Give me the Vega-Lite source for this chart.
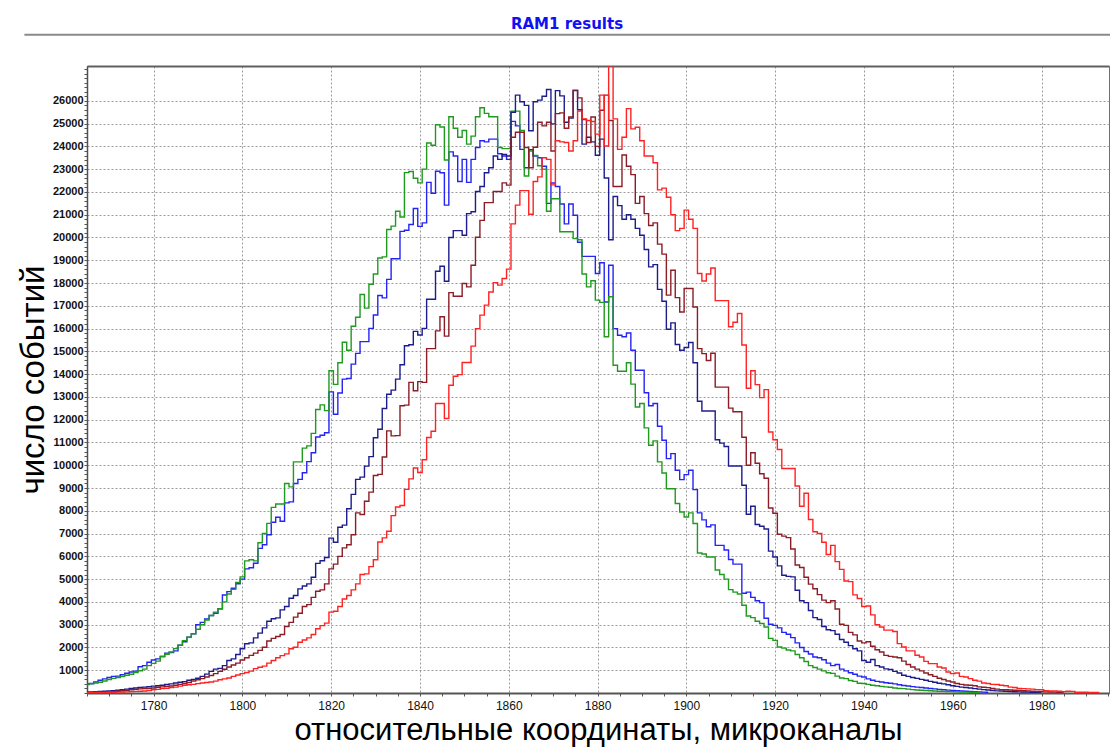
{
"$schema":"https://vega.github.io/schema/vega-lite/v6.json",
"width":1022,"height":627,
"autosize":{"type":"none"},
"padding":{"left":87,"top":66,"right":1,"bottom":54},
"background":"white",
"config":{"view":{"stroke":"#707070","strokeWidth":1}},
"title":{"text":"RAM1 results","color":"#1010f4","font":"DejaVu Sans","fontSize":15,"fontWeight":"bold","anchor":"middle","frame":"group","offset":2,"dx":-31},
"resolve":{"axis":{"x":"independent","y":"independent"}},
"layer":[
{"data":{"values":[{"k":1}]},
"mark":{"type":"rule","color":"#8a8a8a","strokeWidth":2,"clip":false},
"encoding":{
"x":{"datum":1750.9,"type":"quantitative","axis":{"orient":"top","labels":false,"ticks":false,"grid":false,"title":null,"domainColor":"#606060","domainWidth":2}},
"x2":{"datum":1996},
"y":{"datum":28906,"type":"quantitative","axis":null}}},
{"data":{"values":[
{"s":"b","u":1765,"v":400},{"s":"b","u":1766,"v":420},{"s":"b","u":1767,"v":480},{"s":"b","u":1768,"v":560},{"s":"b","u":1769,"v":620},{"s":"b","u":1770,"v":680},{"s":"b","u":1771,"v":730},{"s":"b","u":1772,"v":740},{"s":"b","u":1773,"v":800},{"s":"b","u":1774,"v":870},{"s":"b","u":1775,"v":920},{"s":"b","u":1776,"v":960},{"s":"b","u":1777,"v":1150},{"s":"b","u":1778,"v":1200},{"s":"b","u":1779,"v":1350},{"s":"b","u":1780,"v":1450},{"s":"b","u":1781,"v":1500},{"s":"b","u":1782,"v":1600},{"s":"b","u":1783,"v":1750},{"s":"b","u":1784,"v":1780},{"s":"b","u":1785,"v":1850},{"s":"b","u":1786,"v":2100},{"s":"b","u":1787,"v":2250},{"s":"b","u":1788,"v":2450},{"s":"b","u":1789,"v":2600},{"s":"b","u":1790,"v":3000},{"s":"b","u":1791,"v":3100},{"s":"b","u":1792,"v":3250},{"s":"b","u":1793,"v":3400},{"s":"b","u":1794,"v":3500},{"s":"b","u":1795,"v":3700},{"s":"b","u":1796,"v":4300},{"s":"b","u":1797,"v":4450},{"s":"b","u":1798,"v":4600},{"s":"b","u":1799,"v":4800},{"s":"b","u":1800,"v":5000},{"s":"b","u":1801,"v":5450},{"s":"b","u":1802,"v":5500},{"s":"b","u":1803,"v":5700},{"s":"b","u":1804,"v":6350},{"s":"b","u":1805,"v":6510},{"s":"b","u":1806,"v":6950},{"s":"b","u":1807,"v":7500},{"s":"b","u":1808,"v":7720},{"s":"b","u":1809,"v":7540},{"s":"b","u":1810,"v":8350},{"s":"b","u":1811,"v":8390},{"s":"b","u":1812,"v":9200},{"s":"b","u":1813,"v":9380},{"s":"b","u":1814,"v":9670},{"s":"b","u":1815,"v":10160},{"s":"b","u":1816,"v":10550},{"s":"b","u":1817,"v":11240},{"s":"b","u":1818,"v":11320},{"s":"b","u":1819,"v":11430},{"s":"b","u":1820,"v":13220},{"s":"b","u":1821,"v":12240},{"s":"b","u":1822,"v":13170},{"s":"b","u":1823,"v":13780},{"s":"b","u":1824,"v":13810},{"s":"b","u":1825,"v":14440},{"s":"b","u":1826,"v":14910},{"s":"b","u":1827,"v":15430},{"s":"b","u":1828,"v":15430},{"s":"b","u":1829,"v":16010},{"s":"b","u":1830,"v":16600},{"s":"b","u":1831,"v":17450},{"s":"b","u":1832,"v":17350},{"s":"b","u":1833,"v":18160},{"s":"b","u":1834,"v":19070},{"s":"b","u":1835,"v":19070},{"s":"b","u":1836,"v":20270},{"s":"b","u":1837,"v":20320},{"s":"b","u":1838,"v":20570},{"s":"b","u":1839,"v":21270},{"s":"b","u":1840,"v":20490},{"s":"b","u":1841,"v":20640},{"s":"b","u":1842,"v":22420},{"s":"b","u":1843,"v":21940},{"s":"b","u":1844,"v":22910},{"s":"b","u":1845,"v":22840},{"s":"b","u":1846,"v":21420},{"s":"b","u":1847,"v":23760},{"s":"b","u":1848,"v":23580},{"s":"b","u":1849,"v":22460},{"s":"b","u":1850,"v":23430},{"s":"b","u":1851,"v":22420},{"s":"b","u":1852,"v":23430},{"s":"b","u":1853,"v":23950},{"s":"b","u":1854,"v":24250},{"s":"b","u":1855,"v":24200},{"s":"b","u":1856,"v":24320},{"s":"b","u":1857,"v":24320},{"s":"b","u":1858,"v":23680},{"s":"b","u":1859,"v":23580},{"s":"b","u":1860,"v":23430},{"s":"b","u":1861,"v":25100},{"s":"b","u":1862,"v":24900},{"s":"b","u":1863,"v":23870},{"s":"b","u":1864,"v":23060},{"s":"b","u":1865,"v":23850},{"s":"b","u":1866,"v":23580},{"s":"b","u":1867,"v":23500},{"s":"b","u":1868,"v":23130},{"s":"b","u":1869,"v":21500},{"s":"b","u":1870,"v":22390},{"s":"b","u":1871,"v":22240},{"s":"b","u":1872,"v":21470},{"s":"b","u":1873,"v":20600},{"s":"b","u":1874,"v":21470},{"s":"b","u":1875,"v":20980},{"s":"b","u":1876,"v":19790},{"s":"b","u":1877,"v":19170},{"s":"b","u":1878,"v":19170},{"s":"b","u":1879,"v":19170},{"s":"b","u":1880,"v":18420},{"s":"b","u":1881,"v":18890},{"s":"b","u":1882,"v":17170},{"s":"b","u":1883,"v":18780},{"s":"b","u":1884,"v":16000},{"s":"b","u":1885,"v":15710},{"s":"b","u":1886,"v":15640},{"s":"b","u":1887,"v":15810},{"s":"b","u":1888,"v":15050},{"s":"b","u":1889,"v":14170},{"s":"b","u":1890,"v":14170},{"s":"b","u":1891,"v":13180},{"s":"b","u":1892,"v":12610},{"s":"b","u":1893,"v":12710},{"s":"b","u":1894,"v":11710},{"s":"b","u":1895,"v":11100},{"s":"b","u":1896,"v":10290},{"s":"b","u":1897,"v":10510},{"s":"b","u":1898,"v":9780},{"s":"b","u":1899,"v":9370},{"s":"b","u":1900,"v":9590},{"s":"b","u":1901,"v":9780},{"s":"b","u":1902,"v":8930},{"s":"b","u":1903,"v":7910},{"s":"b","u":1904,"v":7600},{"s":"b","u":1905,"v":7300},{"s":"b","u":1906,"v":7380},{"s":"b","u":1907,"v":6480},{"s":"b","u":1908,"v":6480},{"s":"b","u":1909,"v":6280},{"s":"b","u":1910,"v":5860},{"s":"b","u":1911,"v":5660},{"s":"b","u":1912,"v":5660},{"s":"b","u":1913,"v":4380},{"s":"b","u":1914,"v":4430},{"s":"b","u":1915,"v":4200},{"s":"b","u":1916,"v":4050},{"s":"b","u":1917,"v":3970},{"s":"b","u":1918,"v":3280},{"s":"b","u":1919,"v":3020},{"s":"b","u":1920,"v":2970},{"s":"b","u":1921,"v":2860},{"s":"b","u":1922,"v":2660},{"s":"b","u":1923,"v":2580},{"s":"b","u":1924,"v":2430},{"s":"b","u":1925,"v":2200},{"s":"b","u":1926,"v":2000},{"s":"b","u":1927,"v":1820},{"s":"b","u":1928,"v":1710},{"s":"b","u":1929,"v":1580},{"s":"b","u":1930,"v":1550},{"s":"b","u":1931,"v":1460},{"s":"b","u":1932,"v":1310},{"s":"b","u":1933,"v":1200},{"s":"b","u":1934,"v":1250},{"s":"b","u":1935,"v":1050},{"s":"b","u":1936,"v":970},{"s":"b","u":1937,"v":890},{"s":"b","u":1938,"v":820},{"s":"b","u":1939,"v":740},{"s":"b","u":1940,"v":700},{"s":"b","u":1941,"v":620},{"s":"b","u":1942,"v":560},{"s":"b","u":1943,"v":510},{"s":"b","u":1944,"v":480},{"s":"b","u":1945,"v":450},{"s":"b","u":1946,"v":430},{"s":"b","u":1947,"v":400},{"s":"b","u":1948,"v":360},{"s":"b","u":1949,"v":330},{"s":"b","u":1950,"v":310},{"s":"b","u":1951,"v":280},{"s":"b","u":1952,"v":260},{"s":"b","u":1953,"v":240},{"s":"b","u":1954,"v":220},{"s":"b","u":1955,"v":200},{"s":"b","u":1956,"v":180},{"s":"b","u":1957,"v":160},{"s":"b","u":1958,"v":140},{"s":"b","u":1959,"v":125},{"s":"b","u":1960,"v":110},{"s":"b","u":1961,"v":100},{"s":"b","u":1962,"v":90},{"s":"b","u":1963,"v":80},{"s":"b","u":1964,"v":70},{"s":"b","u":1965,"v":60},{"s":"b","u":1966,"v":50},{"s":"b","u":1967,"v":40},{"s":"b","u":1968,"v":30},
{"s":"g","u":1765,"v":370},{"s":"g","u":1766,"v":400},{"s":"g","u":1767,"v":440},{"s":"g","u":1768,"v":470},{"s":"g","u":1769,"v":530},{"s":"g","u":1770,"v":590},{"s":"g","u":1771,"v":640},{"s":"g","u":1772,"v":680},{"s":"g","u":1773,"v":720},{"s":"g","u":1774,"v":780},{"s":"g","u":1775,"v":820},{"s":"g","u":1776,"v":900},{"s":"g","u":1777,"v":980},{"s":"g","u":1778,"v":1050},{"s":"g","u":1779,"v":1200},{"s":"g","u":1780,"v":1300},{"s":"g","u":1781,"v":1400},{"s":"g","u":1782,"v":1600},{"s":"g","u":1783,"v":1700},{"s":"g","u":1784,"v":1800},{"s":"g","u":1785,"v":1950},{"s":"g","u":1786,"v":2100},{"s":"g","u":1787,"v":2300},{"s":"g","u":1788,"v":2450},{"s":"g","u":1789,"v":2600},{"s":"g","u":1790,"v":2800},{"s":"g","u":1791,"v":3000},{"s":"g","u":1792,"v":3200},{"s":"g","u":1793,"v":3400},{"s":"g","u":1794,"v":3550},{"s":"g","u":1795,"v":3700},{"s":"g","u":1796,"v":4000},{"s":"g","u":1797,"v":4350},{"s":"g","u":1798,"v":4550},{"s":"g","u":1799,"v":4850},{"s":"g","u":1800,"v":5100},{"s":"g","u":1801,"v":5800},{"s":"g","u":1802,"v":5850},{"s":"g","u":1803,"v":5800},{"s":"g","u":1804,"v":6600},{"s":"g","u":1805,"v":7000},{"s":"g","u":1806,"v":7450},{"s":"g","u":1807,"v":8150},{"s":"g","u":1808,"v":8300},{"s":"g","u":1809,"v":8300},{"s":"g","u":1810,"v":9200},{"s":"g","u":1811,"v":9050},{"s":"g","u":1812,"v":10150},{"s":"g","u":1813,"v":10150},{"s":"g","u":1814,"v":10750},{"s":"g","u":1815,"v":10850},{"s":"g","u":1816,"v":11400},{"s":"g","u":1817,"v":12450},{"s":"g","u":1818,"v":12650},{"s":"g","u":1819,"v":12400},{"s":"g","u":1820,"v":14150},{"s":"g","u":1821,"v":13550},{"s":"g","u":1822,"v":14500},{"s":"g","u":1823,"v":15400},{"s":"g","u":1824,"v":15050},{"s":"g","u":1825,"v":16100},{"s":"g","u":1826,"v":16500},{"s":"g","u":1827,"v":17500},{"s":"g","u":1828,"v":16900},{"s":"g","u":1829,"v":17950},{"s":"g","u":1830,"v":18400},{"s":"g","u":1831,"v":19100},{"s":"g","u":1832,"v":19150},{"s":"g","u":1833,"v":20350},{"s":"g","u":1834,"v":20500},{"s":"g","u":1835,"v":21150},{"s":"g","u":1836,"v":20900},{"s":"g","u":1837,"v":22850},{"s":"g","u":1838,"v":22900},{"s":"g","u":1839,"v":22600},{"s":"g","u":1840,"v":22400},{"s":"g","u":1841,"v":23000},{"s":"g","u":1842,"v":24150},{"s":"g","u":1843,"v":24050},{"s":"g","u":1844,"v":24950},{"s":"g","u":1845,"v":24850},{"s":"g","u":1846,"v":23400},{"s":"g","u":1847,"v":25300},{"s":"g","u":1848,"v":24800},{"s":"g","u":1849,"v":24400},{"s":"g","u":1850,"v":24700},{"s":"g","u":1851,"v":24100},{"s":"g","u":1852,"v":24450},{"s":"g","u":1853,"v":25300},{"s":"g","u":1854,"v":25700},{"s":"g","u":1855,"v":25450},{"s":"g","u":1856,"v":25300},{"s":"g","u":1857,"v":25300},{"s":"g","u":1858,"v":23950},{"s":"g","u":1859,"v":23900},{"s":"g","u":1860,"v":23900},{"s":"g","u":1861,"v":25550},{"s":"g","u":1862,"v":25550},{"s":"g","u":1863,"v":24700},{"s":"g","u":1864,"v":22700},{"s":"g","u":1865,"v":23800},{"s":"g","u":1866,"v":23600},{"s":"g","u":1867,"v":23150},{"s":"g","u":1868,"v":23000},{"s":"g","u":1869,"v":21150},{"s":"g","u":1870,"v":21700},{"s":"g","u":1871,"v":21700},{"s":"g","u":1872,"v":20250},{"s":"g","u":1873,"v":20250},{"s":"g","u":1874,"v":20250},{"s":"g","u":1875,"v":19950},{"s":"g","u":1876,"v":19900},{"s":"g","u":1877,"v":18400},{"s":"g","u":1878,"v":17830},{"s":"g","u":1879,"v":18100},{"s":"g","u":1880,"v":17250},{"s":"g","u":1881,"v":17150},{"s":"g","u":1882,"v":15640},{"s":"g","u":1883,"v":17400},{"s":"g","u":1884,"v":14390},{"s":"g","u":1885,"v":14130},{"s":"g","u":1886,"v":14130},{"s":"g","u":1887,"v":14500},{"s":"g","u":1888,"v":13560},{"s":"g","u":1889,"v":12560},{"s":"g","u":1890,"v":12710},{"s":"g","u":1891,"v":11640},{"s":"g","u":1892,"v":10880},{"s":"g","u":1893,"v":11070},{"s":"g","u":1894,"v":10150},{"s":"g","u":1895,"v":9660},{"s":"g","u":1896,"v":8970},{"s":"g","u":1897,"v":8970},{"s":"g","u":1898,"v":8320},{"s":"g","u":1899,"v":7950},{"s":"g","u":1900,"v":7730},{"s":"g","u":1901,"v":7910},{"s":"g","u":1902,"v":7440},{"s":"g","u":1903,"v":6150},{"s":"g","u":1904,"v":6100},{"s":"g","u":1905,"v":5970},{"s":"g","u":1906,"v":5970},{"s":"g","u":1907,"v":5400},{"s":"g","u":1908,"v":5200},{"s":"g","u":1909,"v":5000},{"s":"g","u":1910,"v":4540},{"s":"g","u":1911,"v":4430},{"s":"g","u":1912,"v":4350},{"s":"g","u":1913,"v":3850},{"s":"g","u":1914,"v":3380},{"s":"g","u":1915,"v":3310},{"s":"g","u":1916,"v":3150},{"s":"g","u":1917,"v":3050},{"s":"g","u":1918,"v":2900},{"s":"g","u":1919,"v":2400},{"s":"g","u":1920,"v":2310},{"s":"g","u":1921,"v":2020},{"s":"g","u":1922,"v":1970},{"s":"g","u":1923,"v":1890},{"s":"g","u":1924,"v":1850},{"s":"g","u":1925,"v":1690},{"s":"g","u":1926,"v":1550},{"s":"g","u":1927,"v":1380},{"s":"g","u":1928,"v":1200},{"s":"g","u":1929,"v":1120},{"s":"g","u":1930,"v":1050},{"s":"g","u":1931,"v":970},{"s":"g","u":1932,"v":890},{"s":"g","u":1933,"v":860},{"s":"g","u":1934,"v":740},{"s":"g","u":1935,"v":660},{"s":"g","u":1936,"v":630},{"s":"g","u":1937,"v":550},{"s":"g","u":1938,"v":510},{"s":"g","u":1939,"v":430},{"s":"g","u":1940,"v":420},{"s":"g","u":1941,"v":380},{"s":"g","u":1942,"v":340},{"s":"g","u":1943,"v":320},{"s":"g","u":1944,"v":290},{"s":"g","u":1945,"v":270},{"s":"g","u":1946,"v":250},{"s":"g","u":1947,"v":220},{"s":"g","u":1948,"v":200},{"s":"g","u":1949,"v":190},{"s":"g","u":1950,"v":170},{"s":"g","u":1951,"v":150},{"s":"g","u":1952,"v":130},{"s":"g","u":1953,"v":120},{"s":"g","u":1954,"v":110},{"s":"g","u":1955,"v":100},{"s":"g","u":1956,"v":90},{"s":"g","u":1957,"v":80},{"s":"g","u":1958,"v":70},{"s":"g","u":1959,"v":65},{"s":"g","u":1960,"v":60},{"s":"g","u":1961,"v":50},{"s":"g","u":1962,"v":45},{"s":"g","u":1963,"v":40},{"s":"g","u":1964,"v":35},{"s":"g","u":1965,"v":30},{"s":"g","u":1966,"v":25},
{"s":"n","u":1765,"v":40},{"s":"n","u":1766,"v":50},{"s":"n","u":1767,"v":60},{"s":"n","u":1768,"v":70},{"s":"n","u":1769,"v":80},{"s":"n","u":1770,"v":90},{"s":"n","u":1771,"v":100},{"s":"n","u":1772,"v":120},{"s":"n","u":1773,"v":140},{"s":"n","u":1774,"v":170},{"s":"n","u":1775,"v":200},{"s":"n","u":1776,"v":220},{"s":"n","u":1777,"v":240},{"s":"n","u":1778,"v":260},{"s":"n","u":1779,"v":280},{"s":"n","u":1780,"v":300},{"s":"n","u":1781,"v":320},{"s":"n","u":1782,"v":340},{"s":"n","u":1783,"v":370},{"s":"n","u":1784,"v":400},{"s":"n","u":1785,"v":440},{"s":"n","u":1786,"v":470},{"s":"n","u":1787,"v":500},{"s":"n","u":1788,"v":560},{"s":"n","u":1789,"v":600},{"s":"n","u":1790,"v":650},{"s":"n","u":1791,"v":730},{"s":"n","u":1792,"v":830},{"s":"n","u":1793,"v":950},{"s":"n","u":1794,"v":1050},{"s":"n","u":1795,"v":1080},{"s":"n","u":1796,"v":1200},{"s":"n","u":1797,"v":1430},{"s":"n","u":1798,"v":1500},{"s":"n","u":1799,"v":1690},{"s":"n","u":1800,"v":1940},{"s":"n","u":1801,"v":2160},{"s":"n","u":1802,"v":2200},{"s":"n","u":1803,"v":2420},{"s":"n","u":1804,"v":2630},{"s":"n","u":1805,"v":2860},{"s":"n","u":1806,"v":3150},{"s":"n","u":1807,"v":3260},{"s":"n","u":1808,"v":3300},{"s":"n","u":1809,"v":3650},{"s":"n","u":1810,"v":3800},{"s":"n","u":1811,"v":4160},{"s":"n","u":1812,"v":4280},{"s":"n","u":1813,"v":4570},{"s":"n","u":1814,"v":4700},{"s":"n","u":1815,"v":4790},{"s":"n","u":1816,"v":5080},{"s":"n","u":1817,"v":5690},{"s":"n","u":1818,"v":5810},{"s":"n","u":1819,"v":5950},{"s":"n","u":1820,"v":6800},{"s":"n","u":1821,"v":6620},{"s":"n","u":1822,"v":7280},{"s":"n","u":1823,"v":7370},{"s":"n","u":1824,"v":8090},{"s":"n","u":1825,"v":8720},{"s":"n","u":1826,"v":9380},{"s":"n","u":1827,"v":9480},{"s":"n","u":1828,"v":9960},{"s":"n","u":1829,"v":10380},{"s":"n","u":1830,"v":11210},{"s":"n","u":1831,"v":11580},{"s":"n","u":1832,"v":12490},{"s":"n","u":1833,"v":13120},{"s":"n","u":1834,"v":13300},{"s":"n","u":1835,"v":13780},{"s":"n","u":1836,"v":14410},{"s":"n","u":1837,"v":15250},{"s":"n","u":1838,"v":15290},{"s":"n","u":1839,"v":15880},{"s":"n","u":1840,"v":15720},{"s":"n","u":1841,"v":16010},{"s":"n","u":1842,"v":17290},{"s":"n","u":1843,"v":17290},{"s":"n","u":1844,"v":18520},{"s":"n","u":1845,"v":18740},{"s":"n","u":1846,"v":18080},{"s":"n","u":1847,"v":20000},{"s":"n","u":1848,"v":20300},{"s":"n","u":1849,"v":20300},{"s":"n","u":1850,"v":20100},{"s":"n","u":1851,"v":21050},{"s":"n","u":1852,"v":21130},{"s":"n","u":1853,"v":22020},{"s":"n","u":1854,"v":22240},{"s":"n","u":1855,"v":22840},{"s":"n","u":1856,"v":23060},{"s":"n","u":1857,"v":23580},{"s":"n","u":1858,"v":23430},{"s":"n","u":1859,"v":23650},{"s":"n","u":1860,"v":23580},{"s":"n","u":1861,"v":25500},{"s":"n","u":1862,"v":26250},{"s":"n","u":1863,"v":25960},{"s":"n","u":1864,"v":25800},{"s":"n","u":1865,"v":24690},{"s":"n","u":1866,"v":25960},{"s":"n","u":1867,"v":26030},{"s":"n","u":1868,"v":26200},{"s":"n","u":1869,"v":26500},{"s":"n","u":1870,"v":24990},{"s":"n","u":1871,"v":26450},{"s":"n","u":1872,"v":26220},{"s":"n","u":1873,"v":25060},{"s":"n","u":1874,"v":25240},{"s":"n","u":1875,"v":26450},{"s":"n","u":1876,"v":25610},{"s":"n","u":1877,"v":24100},{"s":"n","u":1878,"v":24400},{"s":"n","u":1879,"v":24200},{"s":"n","u":1880,"v":23610},{"s":"n","u":1881,"v":24320},{"s":"n","u":1882,"v":22610},{"s":"n","u":1883,"v":19900},{"s":"n","u":1884,"v":21800},{"s":"n","u":1885,"v":21400},{"s":"n","u":1886,"v":20800},{"s":"n","u":1887,"v":21000},{"s":"n","u":1888,"v":20800},{"s":"n","u":1889,"v":20400},{"s":"n","u":1890,"v":20100},{"s":"n","u":1891,"v":19470},{"s":"n","u":1892,"v":18710},{"s":"n","u":1893,"v":18810},{"s":"n","u":1894,"v":17720},{"s":"n","u":1895,"v":17200},{"s":"n","u":1896,"v":15970},{"s":"n","u":1897,"v":16250},{"s":"n","u":1898,"v":15300},{"s":"n","u":1899,"v":15050},{"s":"n","u":1900,"v":15170},{"s":"n","u":1901,"v":15390},{"s":"n","u":1902,"v":14500},{"s":"n","u":1903,"v":12810},{"s":"n","u":1904,"v":12380},{"s":"n","u":1905,"v":12380},{"s":"n","u":1906,"v":12380},{"s":"n","u":1907,"v":11120},{"s":"n","u":1908,"v":10970},{"s":"n","u":1909,"v":10820},{"s":"n","u":1910,"v":9970},{"s":"n","u":1911,"v":9970},{"s":"n","u":1912,"v":9970},{"s":"n","u":1913,"v":9120},{"s":"n","u":1914,"v":7850},{"s":"n","u":1915,"v":8200},{"s":"n","u":1916,"v":7400},{"s":"n","u":1917,"v":7320},{"s":"n","u":1918,"v":7200},{"s":"n","u":1919,"v":6230},{"s":"n","u":1920,"v":5970},{"s":"n","u":1921,"v":5580},{"s":"n","u":1922,"v":5170},{"s":"n","u":1923,"v":5120},{"s":"n","u":1924,"v":5100},{"s":"n","u":1925,"v":4510},{"s":"n","u":1926,"v":4050},{"s":"n","u":1927,"v":3970},{"s":"n","u":1928,"v":3620},{"s":"n","u":1929,"v":3310},{"s":"n","u":1930,"v":3230},{"s":"n","u":1931,"v":2920},{"s":"n","u":1932,"v":2780},{"s":"n","u":1933,"v":2740},{"s":"n","u":1934,"v":2580},{"s":"n","u":1935,"v":2350},{"s":"n","u":1936,"v":2230},{"s":"n","u":1937,"v":2080},{"s":"n","u":1938,"v":1940},{"s":"n","u":1939,"v":1850},{"s":"n","u":1940,"v":1430},{"s":"n","u":1941,"v":1350},{"s":"n","u":1942,"v":1470},{"s":"n","u":1943,"v":1200},{"s":"n","u":1944,"v":1140},{"s":"n","u":1945,"v":1060},{"s":"n","u":1946,"v":1030},{"s":"n","u":1947,"v":950},{"s":"n","u":1948,"v":880},{"s":"n","u":1949,"v":780},{"s":"n","u":1950,"v":730},{"s":"n","u":1951,"v":680},{"s":"n","u":1952,"v":640},{"s":"n","u":1953,"v":600},{"s":"n","u":1954,"v":560},{"s":"n","u":1955,"v":510},{"s":"n","u":1956,"v":470},{"s":"n","u":1957,"v":430},{"s":"n","u":1958,"v":400},{"s":"n","u":1959,"v":360},{"s":"n","u":1960,"v":320},{"s":"n","u":1961,"v":290},{"s":"n","u":1962,"v":260},{"s":"n","u":1963,"v":240},{"s":"n","u":1964,"v":220},{"s":"n","u":1965,"v":190},{"s":"n","u":1966,"v":170},{"s":"n","u":1967,"v":150},{"s":"n","u":1968,"v":130},{"s":"n","u":1969,"v":110},{"s":"n","u":1970,"v":95},{"s":"n","u":1971,"v":85},{"s":"n","u":1972,"v":75},{"s":"n","u":1973,"v":65},{"s":"n","u":1974,"v":55},{"s":"n","u":1975,"v":50},{"s":"n","u":1976,"v":45},{"s":"n","u":1977,"v":40},{"s":"n","u":1978,"v":35},{"s":"n","u":1979,"v":30},{"s":"n","u":1980,"v":25},
{"s":"m","u":1765,"v":20},{"s":"m","u":1766,"v":25},{"s":"m","u":1767,"v":30},{"s":"m","u":1768,"v":35},{"s":"m","u":1769,"v":40},{"s":"m","u":1770,"v":50},{"s":"m","u":1771,"v":60},{"s":"m","u":1772,"v":80},{"s":"m","u":1773,"v":100},{"s":"m","u":1774,"v":120},{"s":"m","u":1775,"v":140},{"s":"m","u":1776,"v":160},{"s":"m","u":1777,"v":180},{"s":"m","u":1778,"v":200},{"s":"m","u":1779,"v":210},{"s":"m","u":1780,"v":220},{"s":"m","u":1781,"v":250},{"s":"m","u":1782,"v":270},{"s":"m","u":1783,"v":290},{"s":"m","u":1784,"v":310},{"s":"m","u":1785,"v":340},{"s":"m","u":1786,"v":380},{"s":"m","u":1787,"v":420},{"s":"m","u":1788,"v":460},{"s":"m","u":1789,"v":525},{"s":"m","u":1790,"v":580},{"s":"m","u":1791,"v":630},{"s":"m","u":1792,"v":700},{"s":"m","u":1793,"v":770},{"s":"m","u":1794,"v":850},{"s":"m","u":1795,"v":950},{"s":"m","u":1796,"v":1040},{"s":"m","u":1797,"v":1140},{"s":"m","u":1798,"v":1230},{"s":"m","u":1799,"v":1310},{"s":"m","u":1800,"v":1450},{"s":"m","u":1801,"v":1550},{"s":"m","u":1802,"v":1650},{"s":"m","u":1803,"v":1750},{"s":"m","u":1804,"v":1870},{"s":"m","u":1805,"v":2010},{"s":"m","u":1806,"v":2280},{"s":"m","u":1807,"v":2400},{"s":"m","u":1808,"v":2480},{"s":"m","u":1809,"v":2570},{"s":"m","u":1810,"v":2920},{"s":"m","u":1811,"v":3100},{"s":"m","u":1812,"v":3330},{"s":"m","u":1813,"v":3500},{"s":"m","u":1814,"v":3800},{"s":"m","u":1815,"v":3880},{"s":"m","u":1816,"v":4200},{"s":"m","u":1817,"v":4470},{"s":"m","u":1818,"v":4530},{"s":"m","u":1819,"v":4790},{"s":"m","u":1820,"v":5450},{"s":"m","u":1821,"v":5660},{"s":"m","u":1822,"v":6000},{"s":"m","u":1823,"v":6370},{"s":"m","u":1824,"v":6510},{"s":"m","u":1825,"v":6950},{"s":"m","u":1826,"v":7910},{"s":"m","u":1827,"v":7840},{"s":"m","u":1828,"v":8420},{"s":"m","u":1829,"v":8820},{"s":"m","u":1830,"v":9550},{"s":"m","u":1831,"v":9600},{"s":"m","u":1832,"v":10360},{"s":"m","u":1833,"v":11510},{"s":"m","u":1834,"v":11290},{"s":"m","u":1835,"v":11300},{"s":"m","u":1836,"v":12610},{"s":"m","u":1837,"v":12640},{"s":"m","u":1838,"v":13640},{"s":"m","u":1839,"v":13270},{"s":"m","u":1840,"v":13670},{"s":"m","u":1841,"v":13640},{"s":"m","u":1842,"v":15120},{"s":"m","u":1843,"v":15120},{"s":"m","u":1844,"v":15900},{"s":"m","u":1845,"v":16520},{"s":"m","u":1846,"v":15670},{"s":"m","u":1847,"v":17580},{"s":"m","u":1848,"v":17420},{"s":"m","u":1849,"v":17420},{"s":"m","u":1850,"v":17980},{"s":"m","u":1851,"v":17830},{"s":"m","u":1852,"v":18780},{"s":"m","u":1853,"v":20010},{"s":"m","u":1854,"v":20750},{"s":"m","u":1855,"v":21530},{"s":"m","u":1856,"v":21530},{"s":"m","u":1857,"v":22020},{"s":"m","u":1858,"v":22020},{"s":"m","u":1859,"v":22400},{"s":"m","u":1860,"v":22300},{"s":"m","u":1861,"v":24400},{"s":"m","u":1862,"v":24620},{"s":"m","u":1863,"v":24620},{"s":"m","u":1864,"v":23950},{"s":"m","u":1865,"v":23060},{"s":"m","u":1866,"v":23960},{"s":"m","u":1867,"v":25060},{"s":"m","u":1868,"v":24900},{"s":"m","u":1869,"v":25060},{"s":"m","u":1870,"v":23800},{"s":"m","u":1871,"v":25440},{"s":"m","u":1872,"v":25470},{"s":"m","u":1873,"v":24800},{"s":"m","u":1874,"v":25290},{"s":"m","u":1875,"v":26470},{"s":"m","u":1876,"v":26130},{"s":"m","u":1877,"v":25180},{"s":"m","u":1878,"v":24170},{"s":"m","u":1879,"v":25290},{"s":"m","u":1880,"v":24000},{"s":"m","u":1881,"v":25590},{"s":"m","u":1882,"v":26250},{"s":"m","u":1883,"v":25140},{"s":"m","u":1884,"v":22240},{"s":"m","u":1885,"v":22240},{"s":"m","u":1886,"v":23620},{"s":"m","u":1887,"v":23130},{"s":"m","u":1888,"v":22760},{"s":"m","u":1889,"v":21500},{"s":"m","u":1890,"v":21800},{"s":"m","u":1891,"v":21050},{"s":"m","u":1892,"v":20530},{"s":"m","u":1893,"v":20640},{"s":"m","u":1894,"v":19710},{"s":"m","u":1895,"v":19270},{"s":"m","u":1896,"v":17470},{"s":"m","u":1897,"v":18560},{"s":"m","u":1898,"v":17360},{"s":"m","u":1899,"v":16730},{"s":"m","u":1900,"v":17760},{"s":"m","u":1901,"v":17760},{"s":"m","u":1902,"v":16950},{"s":"m","u":1903,"v":15120},{"s":"m","u":1904,"v":14900},{"s":"m","u":1905,"v":14600},{"s":"m","u":1906,"v":14920},{"s":"m","u":1907,"v":13430},{"s":"m","u":1908,"v":13430},{"s":"m","u":1909,"v":13430},{"s":"m","u":1910,"v":12510},{"s":"m","u":1911,"v":12350},{"s":"m","u":1912,"v":12350},{"s":"m","u":1913,"v":11230},{"s":"m","u":1914,"v":10000},{"s":"m","u":1915,"v":10550},{"s":"m","u":1916,"v":10090},{"s":"m","u":1917,"v":9630},{"s":"m","u":1918,"v":9430},{"s":"m","u":1919,"v":8120},{"s":"m","u":1920,"v":7890},{"s":"m","u":1921,"v":6970},{"s":"m","u":1922,"v":6890},{"s":"m","u":1923,"v":6820},{"s":"m","u":1924,"v":6320},{"s":"m","u":1925,"v":5620},{"s":"m","u":1926,"v":5510},{"s":"m","u":1927,"v":5080},{"s":"m","u":1928,"v":4780},{"s":"m","u":1929,"v":4580},{"s":"m","u":1930,"v":4320},{"s":"m","u":1931,"v":4080},{"s":"m","u":1932,"v":3970},{"s":"m","u":1933,"v":4050},{"s":"m","u":1934,"v":3690},{"s":"m","u":1935,"v":3020},{"s":"m","u":1936,"v":2970},{"s":"m","u":1937,"v":2660},{"s":"m","u":1938,"v":2550},{"s":"m","u":1939,"v":2280},{"s":"m","u":1940,"v":2200},{"s":"m","u":1941,"v":2250},{"s":"m","u":1942,"v":2050},{"s":"m","u":1943,"v":1900},{"s":"m","u":1944,"v":1800},{"s":"m","u":1945,"v":1650},{"s":"m","u":1946,"v":1610},{"s":"m","u":1947,"v":1580},{"s":"m","u":1948,"v":1550},{"s":"m","u":1949,"v":1400},{"s":"m","u":1950,"v":1250},{"s":"m","u":1951,"v":1140},{"s":"m","u":1952,"v":1050},{"s":"m","u":1953,"v":970},{"s":"m","u":1954,"v":880},{"s":"m","u":1955,"v":800},{"s":"m","u":1956,"v":730},{"s":"m","u":1957,"v":650},{"s":"m","u":1958,"v":590},{"s":"m","u":1959,"v":530},{"s":"m","u":1960,"v":480},{"s":"m","u":1961,"v":420},{"s":"m","u":1962,"v":380},{"s":"m","u":1963,"v":350},{"s":"m","u":1964,"v":340},{"s":"m","u":1965,"v":320},{"s":"m","u":1966,"v":270},{"s":"m","u":1967,"v":250},{"s":"m","u":1968,"v":235},{"s":"m","u":1969,"v":200},{"s":"m","u":1970,"v":170},{"s":"m","u":1971,"v":150},{"s":"m","u":1972,"v":140},{"s":"m","u":1973,"v":130},{"s":"m","u":1974,"v":120},{"s":"m","u":1975,"v":110},{"s":"m","u":1976,"v":100},{"s":"m","u":1977,"v":90},{"s":"m","u":1978,"v":75},{"s":"m","u":1979,"v":70},{"s":"m","u":1980,"v":60},{"s":"m","u":1981,"v":50},{"s":"m","u":1982,"v":45},{"s":"m","u":1983,"v":40},{"s":"m","u":1984,"v":35},{"s":"m","u":1985,"v":30},
{"s":"r","u":1765,"v":10},{"s":"r","u":1766,"v":15},{"s":"r","u":1767,"v":20},{"s":"r","u":1768,"v":20},{"s":"r","u":1769,"v":25},{"s":"r","u":1770,"v":30},{"s":"r","u":1771,"v":35},{"s":"r","u":1772,"v":40},{"s":"r","u":1773,"v":45},{"s":"r","u":1774,"v":50},{"s":"r","u":1775,"v":60},{"s":"r","u":1776,"v":70},{"s":"r","u":1777,"v":80},{"s":"r","u":1778,"v":90},{"s":"r","u":1779,"v":110},{"s":"r","u":1780,"v":140},{"s":"r","u":1781,"v":160},{"s":"r","u":1782,"v":190},{"s":"r","u":1783,"v":210},{"s":"r","u":1784,"v":240},{"s":"r","u":1785,"v":260},{"s":"r","u":1786,"v":300},{"s":"r","u":1787,"v":340},{"s":"r","u":1788,"v":360},{"s":"r","u":1789,"v":380},{"s":"r","u":1790,"v":410},{"s":"r","u":1791,"v":440},{"s":"r","u":1792,"v":460},{"s":"r","u":1793,"v":480},{"s":"r","u":1794,"v":520},{"s":"r","u":1795,"v":580},{"s":"r","u":1796,"v":620},{"s":"r","u":1797,"v":660},{"s":"r","u":1798,"v":730},{"s":"r","u":1799,"v":790},{"s":"r","u":1800,"v":850},{"s":"r","u":1801,"v":900},{"s":"r","u":1802,"v":960},{"s":"r","u":1803,"v":1070},{"s":"r","u":1804,"v":1130},{"s":"r","u":1805,"v":1180},{"s":"r","u":1806,"v":1310},{"s":"r","u":1807,"v":1430},{"s":"r","u":1808,"v":1550},{"s":"r","u":1809,"v":1640},{"s":"r","u":1810,"v":1720},{"s":"r","u":1811,"v":1940},{"s":"r","u":1812,"v":2010},{"s":"r","u":1813,"v":2230},{"s":"r","u":1814,"v":2330},{"s":"r","u":1815,"v":2420},{"s":"r","u":1816,"v":2570},{"s":"r","u":1817,"v":2820},{"s":"r","u":1818,"v":2960},{"s":"r","u":1819,"v":3070},{"s":"r","u":1820,"v":3550},{"s":"r","u":1821,"v":3590},{"s":"r","u":1822,"v":3800},{"s":"r","u":1823,"v":4130},{"s":"r","u":1824,"v":4280},{"s":"r","u":1825,"v":4530},{"s":"r","u":1826,"v":4790},{"s":"r","u":1827,"v":5200},{"s":"r","u":1828,"v":5230},{"s":"r","u":1829,"v":5550},{"s":"r","u":1830,"v":5850},{"s":"r","u":1831,"v":6630},{"s":"r","u":1832,"v":6810},{"s":"r","u":1833,"v":7100},{"s":"r","u":1834,"v":7790},{"s":"r","u":1835,"v":8170},{"s":"r","u":1836,"v":8230},{"s":"r","u":1837,"v":8940},{"s":"r","u":1838,"v":9400},{"s":"r","u":1839,"v":9880},{"s":"r","u":1840,"v":9680},{"s":"r","u":1841,"v":10240},{"s":"r","u":1842,"v":11220},{"s":"r","u":1843,"v":11490},{"s":"r","u":1844,"v":12710},{"s":"r","u":1845,"v":12710},{"s":"r","u":1846,"v":12050},{"s":"r","u":1847,"v":13510},{"s":"r","u":1848,"v":13910},{"s":"r","u":1849,"v":13980},{"s":"r","u":1850,"v":14510},{"s":"r","u":1851,"v":14510},{"s":"r","u":1852,"v":15230},{"s":"r","u":1853,"v":16000},{"s":"r","u":1854,"v":16590},{"s":"r","u":1855,"v":17030},{"s":"r","u":1856,"v":17610},{"s":"r","u":1857,"v":18020},{"s":"r","u":1858,"v":17910},{"s":"r","u":1859,"v":18200},{"s":"r","u":1860,"v":18610},{"s":"r","u":1861,"v":20600},{"s":"r","u":1862,"v":21420},{"s":"r","u":1863,"v":22060},{"s":"r","u":1864,"v":22060},{"s":"r","u":1865,"v":21020},{"s":"r","u":1866,"v":22460},{"s":"r","u":1867,"v":22660},{"s":"r","u":1868,"v":23500},{"s":"r","u":1869,"v":23430},{"s":"r","u":1870,"v":22310},{"s":"r","u":1871,"v":24250},{"s":"r","u":1872,"v":24200},{"s":"r","u":1873,"v":24170},{"s":"r","u":1874,"v":23800},{"s":"r","u":1875,"v":24250},{"s":"r","u":1876,"v":25550},{"s":"r","u":1877,"v":25210},{"s":"r","u":1878,"v":25140},{"s":"r","u":1879,"v":25090},{"s":"r","u":1880,"v":24540},{"s":"r","u":1881,"v":26250},{"s":"r","u":1882,"v":24020},{"s":"r","u":1883,"v":27800},{"s":"r","u":1884,"v":25210},{"s":"r","u":1885,"v":23870},{"s":"r","u":1886,"v":24400},{"s":"r","u":1887,"v":25660},{"s":"r","u":1888,"v":24770},{"s":"r","u":1889,"v":24840},{"s":"r","u":1890,"v":24250},{"s":"r","u":1891,"v":23580},{"s":"r","u":1892,"v":23580},{"s":"r","u":1893,"v":23280},{"s":"r","u":1894,"v":22090},{"s":"r","u":1895,"v":22170},{"s":"r","u":1896,"v":21770},{"s":"r","u":1897,"v":21000},{"s":"r","u":1898,"v":20300},{"s":"r","u":1899,"v":20400},{"s":"r","u":1900,"v":21200},{"s":"r","u":1901,"v":20800},{"s":"r","u":1902,"v":20400},{"s":"r","u":1903,"v":18420},{"s":"r","u":1904,"v":18090},{"s":"r","u":1905,"v":18400},{"s":"r","u":1906,"v":18660},{"s":"r","u":1907,"v":17230},{"s":"r","u":1908,"v":17230},{"s":"r","u":1909,"v":17230},{"s":"r","u":1910,"v":16080},{"s":"r","u":1911,"v":16280},{"s":"r","u":1912,"v":16660},{"s":"r","u":1913,"v":15280},{"s":"r","u":1914,"v":13380},{"s":"r","u":1915,"v":14150},{"s":"r","u":1916,"v":13540},{"s":"r","u":1917,"v":12970},{"s":"r","u":1918,"v":13320},{"s":"r","u":1919,"v":11460},{"s":"r","u":1920,"v":11120},{"s":"r","u":1921,"v":10690},{"s":"r","u":1922,"v":9860},{"s":"r","u":1923,"v":9860},{"s":"r","u":1924,"v":9860},{"s":"r","u":1925,"v":9090},{"s":"r","u":1926,"v":8200},{"s":"r","u":1927,"v":8770},{"s":"r","u":1928,"v":7620},{"s":"r","u":1929,"v":7080},{"s":"r","u":1930,"v":7000},{"s":"r","u":1931,"v":6620},{"s":"r","u":1932,"v":6080},{"s":"r","u":1933,"v":6480},{"s":"r","u":1934,"v":5770},{"s":"r","u":1935,"v":5430},{"s":"r","u":1936,"v":4920},{"s":"r","u":1937,"v":4890},{"s":"r","u":1938,"v":4310},{"s":"r","u":1939,"v":4150},{"s":"r","u":1940,"v":3800},{"s":"r","u":1941,"v":3820},{"s":"r","u":1942,"v":3430},{"s":"r","u":1943,"v":3000},{"s":"r","u":1944,"v":2900},{"s":"r","u":1945,"v":2760},{"s":"r","u":1946,"v":2760},{"s":"r","u":1947,"v":2700},{"s":"r","u":1948,"v":2170},{"s":"r","u":1949,"v":2020},{"s":"r","u":1950,"v":1850},{"s":"r","u":1951,"v":1850},{"s":"r","u":1952,"v":1660},{"s":"r","u":1953,"v":1580},{"s":"r","u":1954,"v":1390},{"s":"r","u":1955,"v":1290},{"s":"r","u":1956,"v":1290},{"s":"r","u":1957,"v":1140},{"s":"r","u":1958,"v":1100},{"s":"r","u":1959,"v":920},{"s":"r","u":1960,"v":850},{"s":"r","u":1961,"v":880},{"s":"r","u":1962,"v":730},{"s":"r","u":1963,"v":700},{"s":"r","u":1964,"v":630},{"s":"r","u":1965,"v":560},{"s":"r","u":1966,"v":520},{"s":"r","u":1967,"v":440},{"s":"r","u":1968,"v":420},{"s":"r","u":1969,"v":380},{"s":"r","u":1970,"v":370},{"s":"r","u":1971,"v":340},{"s":"r","u":1972,"v":320},{"s":"r","u":1973,"v":260},{"s":"r","u":1974,"v":240},{"s":"r","u":1975,"v":200},{"s":"r","u":1976,"v":190},{"s":"r","u":1977,"v":180},{"s":"r","u":1978,"v":170},{"s":"r","u":1979,"v":150},{"s":"r","u":1980,"v":140},{"s":"r","u":1981,"v":100},{"s":"r","u":1982,"v":90},{"s":"r","u":1983,"v":85},{"s":"r","u":1984,"v":80},{"s":"r","u":1985,"v":60},{"s":"r","u":1986,"v":80},{"s":"r","u":1987,"v":70},{"s":"r","u":1988,"v":35},{"s":"r","u":1989,"v":30},{"s":"r","u":1990,"v":30},{"s":"r","u":1991,"v":25},{"s":"r","u":1992,"v":20},{"s":"r","u":1993,"v":20}
]},
"mark":{"type":"line","interpolate":"step","strokeWidth":1.4,"clip":true},
"encoding":{
"x":{"field":"u","type":"quantitative","scale":{"domain":[1765,1995.2],"nice":false,"zero":false},
"axis":{"orient":"bottom","tickCount":46,"labelExpr":"datum.value % 20 === 0 ? format(datum.value,'d') : ''","labelOverlap":false,"labelFlush":false,"labelFont":"Liberation Sans","labelFontSize":12,"labelColor":"#111","labelPadding":4,"tickSize":3,"tickColor":"#555","domainColor":"#555","domainWidth":2,"grid":true,"gridColor":"#9a9a9a","gridDash":[2,2],"gridOpacity":{"condition":{"test":"datum.value % 20 === 0","value":1},"value":0},
"title":"относительные координаты, микроканалы","titleFont":"Liberation Sans","titleFontSize":31,"titleFontWeight":"normal","titleColor":"#000","titlePadding":4}},
"y":{"field":"v","type":"quantitative","scale":{"domain":[0,27530],"nice":false},
"axis":{"orient":"left","tickCount":138,"labelExpr":"datum.value % 1000 === 0 && datum.value > 0 && datum.value <= 26000 ? format(datum.value,'d') : ''","labelOverlap":false,"labelFlush":false,"labelFont":"Liberation Sans","labelFontWeight":"bold","labelFontSize":11,"labelColor":"#111","labelPadding":1,"tickSize":3,"tickColor":"#555","domainColor":"#505050","domainWidth":1.5,"grid":true,"gridColor":"#9a9a9a","gridDash":[2,2],"gridOpacity":{"condition":{"test":"datum.value % 1000 === 0 && datum.value > 0 && datum.value <= 26000","value":1},"value":0},
"title":"число событий","titleFont":"Liberation Sans","titleFontSize":33,"titleFontWeight":"normal","titleColor":"#000","titlePadding":2}},
"color":{"field":"s","type":"nominal","scale":{"domain":["b","g","n","m","r"],"range":["#2424f4","#1f9a1f","#1c1c8c","#8c1c26","#ff2222"]},"legend":null}}}
]
}
